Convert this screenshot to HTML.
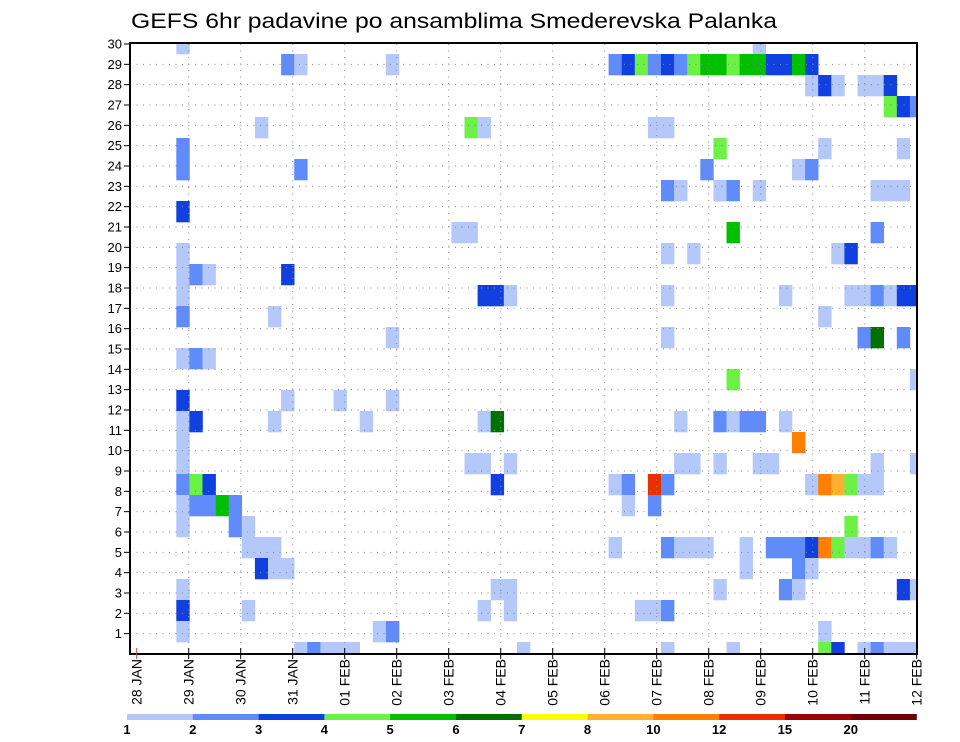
<!DOCTYPE html>
<html><head><meta charset="utf-8">
<style>
html,body{margin:0;padding:0;background:#fff;}
svg{display:block;font-family:"Liberation Sans",sans-serif;}
</style></head>
<body>
<svg id="chart" width="960" height="742" viewBox="0 0 960 742" xmlns="http://www.w3.org/2000/svg">
<rect width="960" height="742" fill="#fff"/>
<text x="131" y="28" font-size="21" textLength="646" lengthAdjust="spacingAndGlyphs" fill="#000">GEFS 6hr padavine po ansamblima Smederevska Palanka</text>
<defs><clipPath id="plotclip"><rect x="130" y="44" width="787" height="610"/></clipPath></defs>
<g id="cells" clip-path="url(#plotclip)"></g>
<g id="grid"></g>
<g id="axes"></g>
<g id="legend"></g>
</svg>
<script>
// ---- data ----
const dayLabels = ["28 JAN","29 JAN","30 JAN","31 JAN","01 FEB","02 FEB","03 FEB","04 FEB","05 FEB","06 FEB","07 FEB","08 FEB","09 FEB","10 FEB","11 FEB","12 FEB"];
const memberLabels = [1,2,3,4,5,6,7,8,9,10,11,12,13,14,15,16,17,18,19,20,21,22,23,24,25,26,27,28,29,30];
const legendLabels = ["1","2","3","4","5","6","7","8","10","12","15","20"];
const levelColors = ["#b4c8fa","#5f8cfa","#1040e0","#6cf245","#00c000","#007000","#ffff00","#ffb030","#ff8000","#e83000","#a00000","#700000"];
// cells: row index (member row), column index (6-hour step), colour level (1..12)
const cellRow = [
29,29,
28,28,28,28,28,28,28,28,28,28,28,28,28,28,28,28,28,28,28,
27,27,27,27,27,27,
26,26,26,
25,25,25,25,25,
24,24,24,24,
23,23,23,23,23,
22,22,22,22,22,22,22,22,
21,
20,20,20,20,
19,19,19,19,19,
18,18,18,18,
17,17,17,17,17,17,17,17,17,17,17,17,
16,16,16,
15,15,15,15,15,
14,14,14,
13,13,
12,12,12,12,
11,11,11,11,11,11,11,11,11,11,11,11,
10,10,
9,9,9,9,9,9,9,9,9,9,9,
8,8,8,8,8,8,8,8,8,8,8,8,8,8,
7,7,7,7,7,7,7,
6,6,6,6,
5,5,5,5,5,5,5,5,5,5,5,5,5,5,5,5,5,5,5,
4,4,4,4,4,4,
3,3,3,3,3,3,3,3,
2,2,2,2,2,2,2,
1,1,1,1,
0,0,0,0,0,0,0,0,0,0,0,0,0,0,0];
const cellCol = [
3,47,
11,12,19,36,37,38,39,40,41,42,43,44,45,46,47,48,49,50,51,
51,52,53,55,56,57,
57,58,59,
9,25,26,39,40,
3,44,52,58,
3,12,43,50,51,
40,41,44,45,47,56,57,58,
3,
24,25,45,56,
3,40,42,53,54,
3,4,5,11,
3,26,27,28,40,49,54,55,56,57,58,59,
3,10,52,
19,40,55,56,58,
3,4,5,
45,59,
3,11,15,19,
3,4,10,17,26,27,41,44,45,46,47,49,
3,50,
3,25,26,28,41,42,44,47,48,56,59,
3,4,5,27,36,37,39,40,51,52,53,54,55,56,
3,4,5,6,7,37,39,
3,7,8,54,
8,9,10,36,40,41,42,43,46,48,49,50,51,52,53,54,55,56,57,
9,10,11,46,50,51,
3,27,28,44,49,50,58,59,
3,8,26,28,38,39,40,
3,18,19,52,
12,13,14,15,16,29,40,45,52,53,55,56,57,58,59];
const cellLevel = [
1,1,
2,1,1,2,3,4,2,3,2,4,5,5,4,5,5,3,3,5,3,
1,3,1,1,1,3,
4,3,2,
1,4,1,1,1,
2,4,1,1,
2,2,2,1,2,
2,1,1,2,1,1,1,1,
3,
1,1,5,2,
1,1,1,1,3,
1,2,1,3,
1,3,3,1,1,1,1,1,2,1,3,3,
2,1,1,
1,1,2,6,2,
1,2,1,
4,1,
3,1,1,1,
1,3,1,1,1,6,1,2,1,2,2,1,
1,9,
1,1,1,1,1,1,1,1,1,1,1,
2,4,3,3,1,2,10,2,1,9,8,4,1,1,
1,2,2,5,2,1,2,
1,2,1,4,
1,1,1,1,2,1,1,1,1,2,2,2,3,9,4,1,1,2,1,
3,1,1,1,2,1,
1,1,1,1,2,1,3,1,
3,1,1,1,1,1,2,
1,1,2,1,
1,2,1,1,1,1,1,1,4,3,1,2,1,1,1];

// ---- scales ----
const NS = "http://www.w3.org/2000/svg";
const plotL = 130, plotR = 917, plotT = 44, plotB = 654;
const colX = k => 137 + 13.1 * k;
const colW = 13.1;
const rowTop = j => 642 - 21 * j;
const rowH = 21;
const dayX = d => 136.7 + 52 * d;
const memberY = m => plotB - (plotB - plotT) / 30 * m;

function mk(tag, attrs, parent){
  const e = document.createElementNS(NS, tag);
  for (const a in attrs) e.setAttribute(a, attrs[a]);
  parent.appendChild(e);
  return e;
}

const gCells = document.getElementById("cells");
for (let i = 0; i < cellRow.length; i++){
  const r = mk("rect", {x: colX(cellCol[i]).toFixed(2), y: rowTop(cellRow[i]), width: colW + 0.3, height: rowH + 0.3, fill: levelColors[cellLevel[i]-1]}, gCells);
  
  
}

const gGrid = document.getElementById("grid");
for (let d = 1; d < dayLabels.length - 1; d++){
  const l = mk("line", {x1: dayX(d), x2: dayX(d), y1: plotT, y2: plotB, stroke: "#888", "stroke-width": 1, "stroke-dasharray": "1,5.5"}, gGrid);
  
  
}
for (let m = 1; m < memberLabels.length; m++){
  const l = mk("line", {x1: plotL, x2: plotR, y1: memberY(m), y2: memberY(m), stroke: "#888", "stroke-width": 1, "stroke-dasharray": "1,5.5"}, gGrid);
  
  
}

const gAxes = document.getElementById("axes");
const frame = mk("rect", {x: plotL, y: plotT - 1, width: plotR - plotL, height: plotB - plotT + 1, fill: "none", stroke: "#000", "stroke-width": 2}, gAxes);


for (let m = 0; m < memberLabels.length; m++){
  const y = memberY(memberLabels[m]);
  const t = mk("line", {x1: plotL - 6, x2: plotL, y1: y, y2: y, stroke: "#000", "stroke-width": 1}, gAxes);
  
  
  const lb = mk("text", {x: plotL - 8, y: y + 4.5, "font-size": 13, "text-anchor": "end", fill: "#000"}, gAxes);
  lb.textContent = memberLabels[m];
  
  
}
for (let d = 0; d < dayLabels.length; d++){
  const x = dayX(d);
  const t = mk("line", {x1: x, x2: x, y1: plotB - 6, y2: plotB + 5, stroke: d === 0 ? "#c44" : "#000", "stroke-width": 1}, gAxes);
  
  
  const lb = mk("text", {x: 0, y: 0, "font-size": 14, "text-anchor": "end", fill: "#000", transform: "translate(" + (x + 5) + ",659) rotate(-90)"}, gAxes);
  lb.textContent = dayLabels[d];
  
  
}

const gLeg = document.getElementById("legend");
const legL = 127, legR = 916.5, segW = (legR - legL) / levelColors.length;
for (let i = 0; i < levelColors.length; i++){
  const s = mk("rect", {x: legL + segW * i, y: 714, width: segW + 0.3, height: 6, fill: levelColors[i]}, gLeg);
  
  
  const lb = mk("text", {x: legL + segW * i, y: 734, "font-size": 13, "font-weight": "bold", "text-anchor": "middle", fill: "#000"}, gLeg);
  lb.textContent = legendLabels[i];
  
  
}
</script>
</body></html>
